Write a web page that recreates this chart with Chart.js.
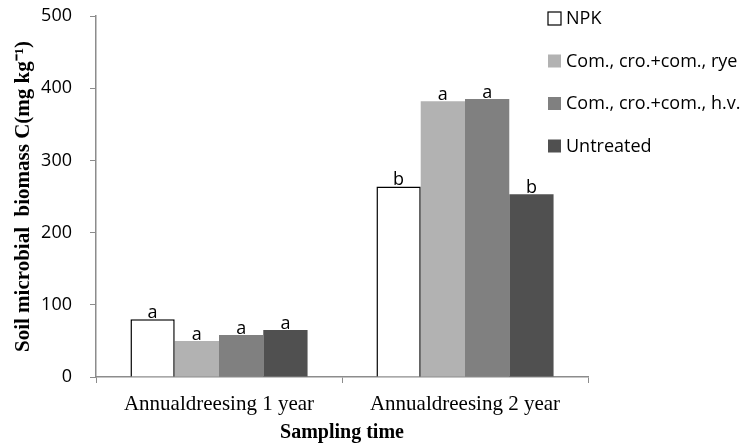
<!DOCTYPE html>
<html>
<head>
<meta charset="utf-8">
<script src="https://cdn.jsdelivr.net/npm/chart.js@4/dist/chart.umd.min.js"></script>
<style>
  body { margin: 0; background: #fff; }
  #wrap { width: 748px; height: 445px; }
</style>
</head>
<body>
<div id="wrap"><canvas id="chart"></canvas></div>
<script>
const categories = ["Annualdreesing 1 year", "Annualdreesing 2 year"];
const seriesNames = ["NPK", "Com., cro.+com., rye", "Com., cro.+com., h.v.", "Untreated"];
const npk = [80, 264];
const comRye = [50, 382];
const comHv = [58, 385];
const untreated = [65, 253];
const letters = [["a", "b"], ["a", "a"], ["a", "a"], ["a", "b"]];
const yTicks = [0, 100, 200, 300, 400, 500];

const fills = ["#ffffff", "#b2b2b2", "#808080", "#505050"];
const borders = ["#000000", "#b2b2b2", "#808080", "#505050"];
const axisColor = "#8c8c8c";
const sansFont = "'Open Sans', 'Noto Sans', sans-serif";
const serifFont = "'Liberation Serif', 'Times New Roman', serif";

const values = [npk, comRye, comHv, untreated];

// letters above the bars
const letterPlugin = {
    id: "letters",
    afterDatasetsDraw(chart) {
        const ctx = chart.ctx;
        ctx.save();
        ctx.font = "18px " + sansFont;
        ctx.fillStyle = "#000";
        ctx.textAlign = "center";
        ctx.textBaseline = "alphabetic";
        chart.data.datasets.forEach((ds, i) => {
            chart.getDatasetMeta(i).data.forEach((bar, j) => {
                ctx.fillText(letters[i][j], bar.x, bar.y - 1);
            });
        });
        ctx.restore();
    }
};

// legend drawn at a fixed spot on the right
const legendPlugin = {
    id: "sideLegend",
    afterDraw(chart) {
        const ctx = chart.ctx;
        ctx.save();
        ctx.font = "18px " + sansFont;
        ctx.textBaseline = "middle";
        chart.data.datasets.forEach((ds, i) => {
            const y = 18 + i * 42.5;
            ctx.fillStyle = ds.backgroundColor;
            ctx.fillRect(548, y - 6, 13, 13);
            if (i === 0) {
                ctx.strokeStyle = "#000";
                ctx.lineWidth = 1.2;
                ctx.strokeRect(548, y - 6, 13, 13);
            }
            ctx.fillStyle = "#000";
            ctx.fillText(ds.label, 566, y + 1);
        });
        ctx.restore();
    }
};

new Chart(document.getElementById("chart"), {
    type: "bar",
    data: {
        labels: categories,
        datasets: seriesNames.map((name, i) => ({
            label: name,
            data: values[i],
            backgroundColor: fills[i],
            borderColor: borders[i],
            borderWidth: i === 0 ? 1.5 : 0,
            borderSkipped: "bottom",
            barPercentage: 1.0,
            categoryPercentage: 0.72
        }))
    },
    options: {
        responsive: true,
        maintainAspectRatio: false,
        animation: false,
        layout: { padding: { left: 0, right: 160, top: 16, bottom: 0 } },
        plugins: {
            legend: { display: false },
            tooltip: { enabled: false }
        },
        scales: {
            x: {
                grid: {
                    offset: true,
                    drawOnChartArea: false,
                    drawTicks: true,
                    tickLength: 6,
                    color: axisColor
                },
                border: { color: axisColor, width: 1.5 },
                ticks: {
                    color: "#000",
                    padding: 9,
                    font: { family: serifFont, size: 21 }
                },
                title: {
                    display: true,
                    text: "Sampling time",
                    color: "#000",
                    padding: { top: 0, bottom: 0 },
                    font: { family: serifFont, size: 20, weight: "bold" }
                },
                afterFit(scale) {
                    scale.height = 68;
                    scale.paddingLeft = 0;
                    scale.paddingRight = 0;
                }
            },
            y: {
                min: 0,
                max: 500,
                afterBuildTicks(scale) {
                    scale.ticks = yTicks.map(v => ({ value: v }));
                },
                grid: {
                    drawOnChartArea: false,
                    drawTicks: true,
                    tickLength: 6,
                    color: axisColor
                },
                border: { color: axisColor, width: 1.5 },
                ticks: {
                    color: "#000",
                    padding: 18,
                    font: { family: sansFont, size: 18 }
                },
                title: {
                    display: true,
                    text: "Soil microbial  biomass C(mg kg\u207B\u00B9)",
                    color: "#000",
                    padding: { top: 11, bottom: 0 },
                    font: { family: serifFont, size: 21, weight: "bold" }
                },
                afterFit(scale) {
                    scale.width = 96;
                    scale.paddingTop = 0;
                    scale.paddingBottom = 0;
                }
            }
        }
    },
    plugins: [letterPlugin, legendPlugin]
});
</script>
</body>
</html>
